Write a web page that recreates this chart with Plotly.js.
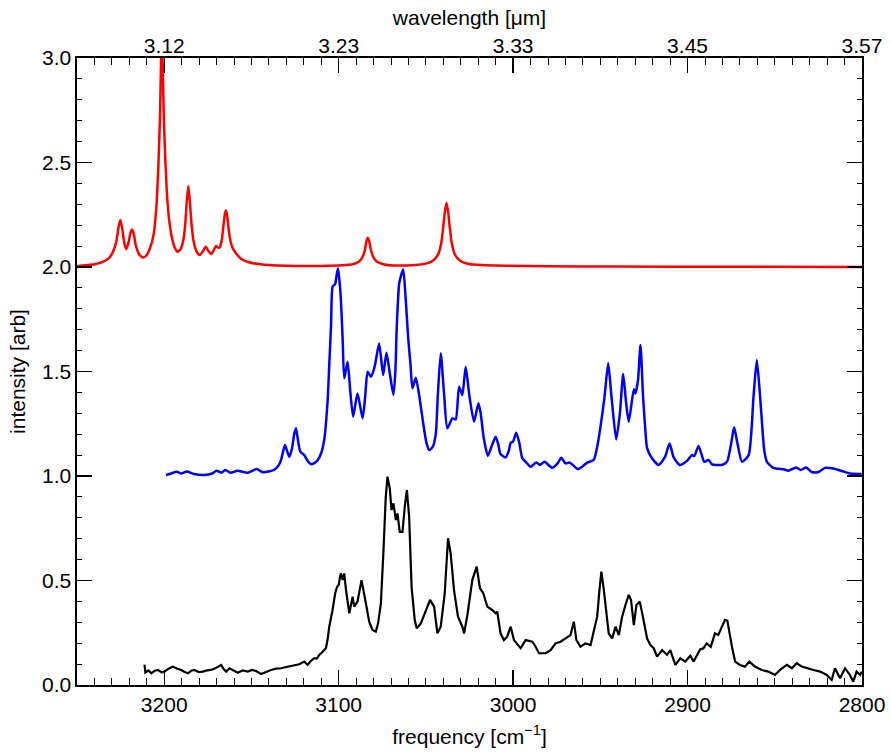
<!DOCTYPE html>
<html><head><meta charset="utf-8">
<script src="https://cdn.plot.ly/plotly-3.0.1.min.js"></script>
<style>body{margin:0;background:#fff}</style>
</head><body><div id="chart" style="width:891px;height:755px"></div>
<script>
// frequency tick positions (cm^-1) and matching wavelength labels (µm)
const freqTicks = [3200, 3100, 3000, 2900, 2800];
const wavelengthLabels = ["3.12", "3.23", "3.33", "3.45", "3.57"];

// red spectrum (offset +2)
const redNu = [3250,3245,3240,3236,3232,3229.5,3227.5,3226.2,3225.2,3224.2,3223,3221.8,3220.5,3219.3,3218.4,3217.4,3216.2,3214.3,3212.3,3210.2,3208.2,3206.2,3204.4,3203.3,3202.5,3201.9,3201.4,3200.8,3200.2,3199.2,3198.2,3196.8,3195.2,3193.8,3192.4,3190.6,3189,3188,3187.2,3186.2,3185.2,3184.3,3183.2,3181.5,3179.7,3177.8,3176.2,3174.6,3173,3171.6,3170.4,3169.2,3168.1,3167,3166,3165.3,3164.7,3164,3163.2,3162.2,3161,3159.5,3156,3152,3146,3138,3125,3110,3098,3092,3088.5,3086.5,3085,3084.2,3083.3,3082.4,3081.5,3080,3078,3074,3066,3056,3050,3046,3043,3041.3,3040.2,3039.2,3038.2,3037.2,3036.2,3035.1,3033.4,3030.4,3026,3018,3005,2980,2940,2880,2800];
const redI = [2.004,2.008,2.013,2.022,2.04,2.07,2.12,2.19,2.225,2.19,2.12,2.085,2.115,2.165,2.18,2.155,2.1,2.06,2.046,2.055,2.09,2.15,2.3,2.5,2.7,2.95,3.16,2.95,2.7,2.48,2.32,2.2,2.125,2.09,2.073,2.085,2.13,2.2,2.3,2.388,2.3,2.2,2.125,2.075,2.057,2.075,2.097,2.075,2.062,2.08,2.1,2.093,2.095,2.13,2.2,2.25,2.27,2.25,2.19,2.13,2.095,2.073,2.04,2.024,2.014,2.008,2.005,2.005,2.008,2.013,2.025,2.045,2.08,2.12,2.14,2.12,2.08,2.045,2.025,2.012,2.007,2.01,2.016,2.03,2.06,2.11,2.18,2.26,2.308,2.26,2.18,2.11,2.06,2.03,2.016,2.009,2.006,2.004,2.002,2.001,2.0];

// blue spectrum (offset +1)
const blueNu = [3199,3196,3193,3190,3187,3183,3177,3172.5,3170,3167.2,3165,3162,3158,3152,3147,3143.5,3137,3134.5,3133,3131.8,3130.8,3129.6,3128.3,3126.8,3125.5,3124.5,3123.3,3122,3119.7,3118,3116,3114,3112,3110,3108.3,3107.3,3106.3,3105.3,3104.4,3103.5,3102.5,3102,3101.2,3100.4,3099.6,3098.7,3097.7,3096.8,3094.9,3093.3,3091.7,3089.2,3086.3,3084.8,3083.4,3081.5,3079.3,3076.8,3074.5,3072.6,3070.5,3068.6,3067.5,3066.7,3065.3,3064.2,3063,3061.6,3060.2,3058.8,3057.7,3055.8,3053.8,3051.5,3049.7,3048.1,3046,3044.3,3043.1,3041.5,3039.6,3037.7,3034.8,3032.9,3031,3029.1,3027.2,3025,3022.4,3019.9,3018.6,3016.8,3014.5,3012,3010,3008.5,3007.2,3004.3,3002.5,3001.4,3000.1,2998.2,2996.5,2994.7,2992.8,2990,2986.7,2984.7,2982,2977.6,2974.5,2972.4,2970,2967.5,2962.9,2957.5,2953.8,2951.8,2949.9,2947.6,2945.5,2943.6,2940.9,2938.8,2936.9,2935.2,2933.7,2930.8,2929.9,2928.4,2927,2925.5,2924.2,2923.2,2920.4,2916.6,2913,2910.3,2908,2904.4,2900,2897.5,2896.1,2893.7,2890.4,2888,2886,2883.2,2880.3,2877.4,2875,2873.3,2871.4,2868.8,2865,2862.2,2860.3,2858.4,2856,2854.5,2850.8,2844.6,2842.2,2837.8,2835.1,2832,2828.8,2825,2821.2,2816.5,2811.6,2806.9,2800.2];
const blueI = [1.005,1.012,1.02,1.012,1.022,1.01,1.005,1.012,1.025,1.016,1.029,1.016,1.025,1.016,1.033,1.018,1.029,1.05,1.077,1.12,1.148,1.12,1.092,1.13,1.2,1.228,1.17,1.117,1.1,1.075,1.057,1.062,1.077,1.11,1.172,1.25,1.364,1.55,1.714,1.906,1.915,1.919,1.96,1.994,1.94,1.842,1.65,1.467,1.547,1.4,1.284,1.395,1.276,1.38,1.499,1.475,1.526,1.634,1.483,1.59,1.48,1.388,1.5,1.714,1.922,1.96,1.989,1.85,1.666,1.53,1.42,1.47,1.383,1.25,1.16,1.124,1.14,1.204,1.395,1.587,1.395,1.228,1.276,1.271,1.427,1.388,1.523,1.38,1.26,1.348,1.3,1.18,1.097,1.15,1.188,1.15,1.105,1.089,1.12,1.159,1.164,1.207,1.16,1.084,1.068,1.044,1.065,1.053,1.068,1.039,1.06,1.087,1.061,1.064,1.033,1.064,1.077,1.14,1.236,1.379,1.539,1.379,1.175,1.3,1.488,1.348,1.26,1.415,1.395,1.459,1.627,1.379,1.22,1.133,1.085,1.053,1.09,1.156,1.09,1.053,1.075,1.1,1.096,1.144,1.068,1.077,1.056,1.053,1.053,1.068,1.156,1.233,1.156,1.068,1.1,1.379,1.555,1.379,1.12,1.068,1.039,1.031,1.025,1.041,1.029,1.041,1.019,1.019,1.039,1.036,1.024,1.012,1.01];

// black measured spectrum
const blackNu = [3211.3,3210.8,3209,3207.4,3205.5,3203.6,3201.5,3199.8,3197.5,3195,3192.5,3190.3,3188.3,3186.4,3184.5,3182.7,3180.2,3177.9,3175.5,3173.1,3170.2,3167.4,3165.8,3164.5,3162.6,3160.2,3157.8,3155,3152.1,3149.7,3147.4,3144.5,3141.5,3138.8,3136,3133,3130,3127.3,3124.8,3122.6,3119.7,3117.8,3116,3114,3112.5,3111.1,3109.2,3107.3,3106.3,3105.4,3103.5,3102,3100.9,3100,3099.1,3098.7,3097.7,3096.8,3095.8,3093.9,3092,3091.1,3089.2,3086.9,3084.4,3082.5,3080.6,3078.7,3077.4,3075.8,3074.3,3073,3072,3070.7,3069.7,3068.6,3067.2,3066.3,3065,3063.4,3062.1,3060.9,3059.6,3058.2,3056.4,3055.2,3052.9,3050.1,3047.6,3045.3,3043.4,3041.5,3039.2,3037.3,3035.8,3033.9,3031.6,3029.1,3028.1,3026.2,3023.4,3020.9,3019,3017.1,3014.8,3012,3010,3009.1,3007.2,3005.3,3003.4,3001.4,2999.5,2995.7,2992.8,2989,2987.1,2985.2,2981.4,2978.5,2975.7,2972.8,2969.9,2967.1,2965.2,2963.7,2961.4,2958.5,2955.6,2954.1,2951.8,2950.5,2949.4,2948,2946.5,2945.2,2943.2,2941.3,2939.4,2937.5,2935.6,2933.7,2932.4,2930.8,2929.3,2927.4,2926,2924.7,2923.2,2921.3,2919.4,2917.5,2914.6,2911.8,2909.9,2907,2904.1,2901.3,2898.4,2896.5,2894.6,2892.8,2890.9,2889,2886.7,2884.3,2882.4,2880.4,2878.6,2877.2,2875.7,2874.2,2872.7,2870,2867.1,2864.6,2861.4,2857.5,2853.7,2849.9,2847,2843.1,2840.2,2837.4,2834.5,2831.7,2827.8,2824,2820.2,2817.4,2815.5,2812.6,2809.7,2806.9,2805,2803.1,2801.1,2800.2];
const blackI = [0.098,0.06,0.07,0.056,0.068,0.072,0.06,0.064,0.078,0.088,0.078,0.072,0.062,0.056,0.068,0.072,0.062,0.064,0.07,0.072,0.082,0.096,0.075,0.064,0.08,0.068,0.059,0.07,0.064,0.072,0.067,0.053,0.064,0.072,0.078,0.08,0.086,0.091,0.094,0.099,0.112,0.096,0.115,0.128,0.126,0.144,0.159,0.176,0.22,0.279,0.359,0.439,0.47,0.478,0.522,0.534,0.502,0.534,0.455,0.343,0.423,0.375,0.399,0.502,0.391,0.303,0.263,0.255,0.295,0.391,0.646,0.901,0.997,0.941,0.837,0.869,0.789,0.821,0.733,0.733,0.853,0.933,0.805,0.47,0.311,0.271,0.295,0.359,0.407,0.375,0.247,0.279,0.439,0.702,0.63,0.455,0.327,0.279,0.247,0.335,0.502,0.566,0.463,0.439,0.375,0.359,0.343,0.351,0.247,0.215,0.231,0.279,0.215,0.176,0.215,0.207,0.183,0.152,0.152,0.167,0.199,0.207,0.223,0.239,0.303,0.215,0.183,0.199,0.191,0.247,0.327,0.455,0.542,0.455,0.327,0.247,0.223,0.279,0.239,0.327,0.383,0.431,0.407,0.287,0.383,0.399,0.343,0.279,0.223,0.191,0.176,0.136,0.167,0.144,0.167,0.096,0.128,0.112,0.14,0.112,0.144,0.17,0.176,0.199,0.183,0.247,0.239,0.279,0.311,0.308,0.231,0.167,0.112,0.096,0.088,0.112,0.088,0.072,0.064,0.048,0.072,0.096,0.08,0.104,0.088,0.08,0.072,0.064,0.048,0.024,0.08,0.032,0.08,0.048,0.016,0.064,0.048,0.064];

const FONT = "Liberation Sans, Arial, Helvetica, sans-serif";
const traces = [
  {x: blackNu, y: blackI, type: 'scatter', mode: 'lines', line: {color: '#000000', width: 2.2}, hoverinfo: 'skip'},
  {x: blueNu, y: blueI, type: 'scatter', mode: 'lines', line: {color: '#0000ff', width: 2.5, shape: 'spline', smoothing: 0.6}, hoverinfo: 'skip'},
  {x: redNu, y: redI, type: 'scatter', mode: 'lines', line: {color: '#ff0000', width: 2.5, shape: 'spline', smoothing: 0.6}, hoverinfo: 'skip'},
  {x: freqTicks, y: freqTicks.map(() => 0), xaxis: 'x2', yaxis: 'y', type: 'scatter', mode: 'markers', marker: {size: 0.1, opacity: 0}, hoverinfo: 'skip', showlegend: false}
];
const layout = {
  width: 891, height: 755,
  margin: {l: 77, r: 29, t: 58, b: 70},
  paper_bgcolor: '#ffffff', plot_bgcolor: '#ffffff',
  showlegend: false,
  font: {family: FONT, size: 21, color: '#000'},
  xaxis: {
    range: [3250, 2800], tickmode: 'array', tickvals: freqTicks,
    ticks: 'inside', ticklen: 15, tickwidth: 1.3, tickcolor: '#000',
    minor: {tickmode: 'linear', tick0: 0, dtick: 10, ticks: 'inside', ticklen: 7, tickwidth: 1, tickcolor: '#000'},
    showline: true, linewidth: 1.6, linecolor: '#000', mirror: true,
    showgrid: false, zeroline: false,
    tickfont: {family: FONT, size: 21},
    title: {text: 'frequency [cm<sup>\u22121</sup>]', font: {family: FONT, size: 21}, standoff: 14}
  },
  xaxis2: {
    overlaying: 'x', side: 'top', anchor: 'y',
    range: [3250, 2800], tickmode: 'array', tickvals: freqTicks, ticktext: wavelengthLabels,
    ticks: 'inside', ticklen: 15, tickwidth: 1.3, tickcolor: '#000',
    minor: {tickmode: 'linear', tick0: 0, dtick: 10, ticks: 'inside', ticklen: 7, tickwidth: 1, tickcolor: '#000'},
    showline: false, showgrid: false, zeroline: false,
    tickfont: {family: FONT, size: 21},
    title: {text: 'wavelength [\u03bcm]', font: {family: FONT, size: 21}, standoff: 2}
  },
  yaxis: {
    range: [0, 3], tickmode: 'linear', tick0: 0, dtick: 0.5, tickformat: '.1f',
    ticks: 'inside', ticklen: 15, tickwidth: 1.3, tickcolor: '#000',
    minor: {tickmode: 'linear', tick0: 0, dtick: 0.1, ticks: 'inside', ticklen: 5, tickwidth: 1, tickcolor: '#000'},
    showline: true, linewidth: 1.6, linecolor: '#000', mirror: 'ticks',
    showgrid: false, zeroline: false,
    tickfont: {family: FONT, size: 21},
    title: {text: 'intensity [arb]', font: {family: FONT, size: 21}, standoff: 10}
  }
};
Plotly.newPlot('chart', traces, layout, {displayModeBar: false, staticPlot: true});
</script>
</body></html>
